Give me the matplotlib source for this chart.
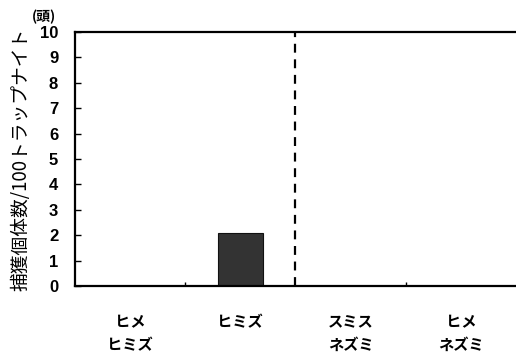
import matplotlib
matplotlib.use('Agg')
import matplotlib.pyplot as plt
import numpy as np

plt.rcParams['font.family'] = ['Noto Sans CJK JP', 'DejaVu Sans']

# data
categories = ['ヒメ\nヒミズ', 'ヒミズ', 'スミス\nネズミ', 'ヒメ\nネズミ']
counts = [0, 2.1, 0, 0]
yticks = list(range(0, 11))

fig = plt.figure(figsize=(5.16, 3.59), dpi=100)
ax = fig.add_axes([0.145, 0.203, 0.855, 0.708])

x = np.arange(len(categories))
ax.bar(x, counts, width=0.41, color='#333333', edgecolor='#111111', linewidth=0.8)

# dashed divider between shrews and mice
ax.axvline(1.5, color='black', linestyle=(0, (4, 3)), linewidth=1.6)

ax.set_xlim(-0.5, 3.5)
ax.set_ylim(0, 10)
ax.set_yticks(yticks)
ax.set_yticklabels([str(t) for t in yticks], fontsize=12, fontweight='bold',
                   family=['Liberation Sans Narrow', 'Liberation Sans', 'DejaVu Sans'])
ax.tick_params(axis='y', direction='in', length=4, width=1, pad=12)

ax.set_xticks(x)
ax.set_xticklabels(categories, fontsize=11, fontweight='bold', linespacing=1.55)
ax.tick_params(axis='x', length=0, pad=20)
ax.set_xticks([0.5, 2.5], minor=True)
ax.tick_params(axis='x', which='minor', direction='in', length=3, width=1)

ax.spines['right'].set_visible(False)
for s in ['left', 'bottom', 'top']:
    ax.spines[s].set_linewidth(1.6)

ax.set_ylabel('捕獲個体数/100トラップナイト', fontsize=13.5, labelpad=6)
ax.text(-0.07, 1.03, '(頭)', transform=ax.transAxes, fontsize=10, fontweight='bold',
        ha='center', va='bottom')

fig.savefig('out.png', dpi=100)
